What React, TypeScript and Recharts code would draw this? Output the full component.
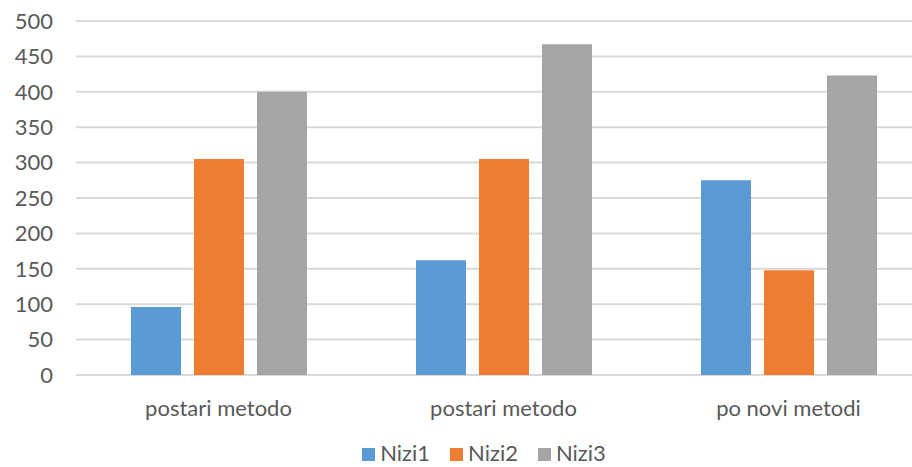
import React from 'react';
import { BarChart, Bar, XAxis, YAxis, CartesianGrid, Legend } from 'recharts';

const categories = ['postari metodo', 'postari metodo', 'po novi metodi'];
const nizi1 = [96, 162, 275];
const nizi2 = [305, 305, 148];
const nizi3 = [400, 467, 423];
const yTicks = [0, 50, 100, 150, 200, 250, 300, 350, 400, 450, 500];

const seriesNames = ['Nizi1', 'Nizi2', 'Nizi3'];
const seriesColors = ['#5B9BD5', '#ED7D31', '#A5A5A5'];

const data = categories.map((name, i) => ({
  name,
  Nizi1: nizi1[i],
  Nizi2: nizi2[i],
  Nizi3: nizi3[i],
}));

const FONT = 'Lato, "Open Sans", sans-serif';
const TEXT = '#595959';

const LegendContent = () => (
  <div
    style={{
      height: 30,
      display: 'flex',
      alignItems: 'center',
      justifyContent: 'center',
      fontFamily: FONT,
      fontSize: 22,
      lineHeight: '22px',
      color: TEXT,
      paddingTop: 2,
      boxSizing: 'border-box',
    }}
  >
    {seriesNames.map((n, i) => (
      <div key={n} style={{ display: 'flex', alignItems: 'center', marginRight: i < 2 ? 20 : 0 }}>
        <span
          style={{
            display: 'inline-block',
            width: 13,
            height: 13,
            background: seriesColors[i],
            marginRight: 5,
            marginTop: 2,
          }}
        />
        <span>{n}</span>
      </div>
    ))}
  </div>
);

export default function App() {
  return (
    <div
      style={{
        position: 'absolute',
        left: 0,
        top: 0,
        width: 912,
        height: 467,
        overflow: 'hidden',
        background: '#ffffff',
      }}
    >
      <BarChart
        width={931}
        height={467}
        data={data}
        margin={{ top: 21, right: 0, left: 0, bottom: 0 }}
        barSize={50}
        barGap={13}
      >
        <CartesianGrid vertical={false} stroke="#D9D9D9" strokeWidth={2} />
        <XAxis
          dataKey="name"
          axisLine={false}
          tickLine={false}
          tickSize={0}
          tickMargin={25}
          height={62}
          tick={{ fill: TEXT, fontSize: 22, fontFamily: FONT }}
        />
        <YAxis
          domain={[0, 500]}
          ticks={yTicks}
          width={76}
          axisLine={false}
          tickLine={false}
          tickSize={0}
          tickMargin={23}
          tick={{ fill: TEXT, fontSize: 22, fontFamily: FONT }}
        />
        <Legend
          verticalAlign="bottom"
          content={<LegendContent />}
          wrapperStyle={{ left: 0, width: 968 }}
        />
        {seriesNames.map((n, i) => (
          <Bar key={n} dataKey={n} fill={seriesColors[i]} isAnimationActive={false} />
        ))}
      </BarChart>
    </div>
  );
}
